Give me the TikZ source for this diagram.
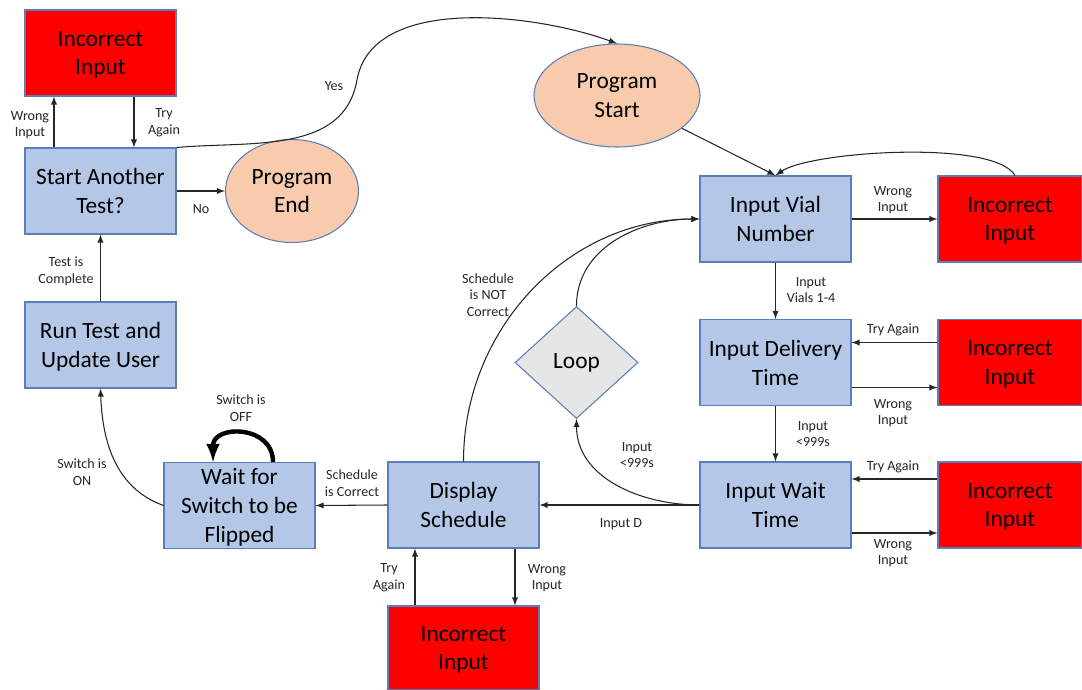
\documentclass[tikz,border=0pt]{standalone}
\usepackage{fontspec}
\setmainfont{Carlito}
\usepackage{tikz}
\usetikzlibrary{arrows,shapes,calc,positioning}
\definecolor{procblue}{HTML}{B4C7E7}
\definecolor{edgeblue}{HTML}{5B7DB8}
\definecolor{termpeach}{HTML}{F8CBAD}
\definecolor{loopgray}{HTML}{E7E6E6}
\tikzset{
  procbox/.style={draw=edgeblue, fill=procblue, line width=0.6pt, minimum width=3.02cm, minimum height=1.72cm, inner sep=0pt, text depth=-2.8pt, align=center, font=\fontsize{13.3}{16.4}\selectfont},
  errbox/.style={procbox, fill=red},
  termell/.style={ellipse, draw=edgeblue, fill=termpeach, line width=0.6pt, minimum height=2.06cm, inner sep=0pt, align=center, font=\fontsize{13.3}{16.4}\selectfont},
  loopdia/.style={diamond, draw=edgeblue, fill=loopgray, line width=0.6pt, minimum width=2.46cm, minimum height=2.24cm, inner sep=0pt, font=\fontsize{13.3}{16.4}\selectfont},
  lbl/.style={align=center, inner sep=0pt, text=black!85, font=\fontsize{8}{9.5}\selectfont},
  conn/.style={draw=black!85, line width=0.6pt, -latex}
}

\begin{document}
\begin{tikzpicture}
				\useasboundingbox (0,0) rectangle (21.64,-13.8);
				\node[errbox] (incA) at (2.01,-1.06) {Incorrect\\Input};
				\node[procbox, text depth=-1.2pt] (again) at (2.01,-3.82) {Start Another\\Test?};
				\node[termell, minimum width=2.66cm, text depth=-6pt] (pend) at (5.84,-3.82) {Program\\End};
				\node[procbox] (runtest) at (2.01,-6.90) {Run Test and\\Update User};
				\node[procbox] (waitsw) at (4.79,-10.11) {Wait for\\Switch to be\\Flipped};
				\node[procbox] (disp) at (9.27,-10.10) {Display\\Schedule};
				\node[errbox, minimum height=1.68cm] (incB) at (9.27,-12.96) {Incorrect\\Input};
				\node[loopdia] (loopd) at (11.53,-7.25) {Loop};
				\node[termell, minimum width=3.32cm] (pstart) at (12.34,-1.91) {Program\\Start};
				\node[procbox] (vial) at (15.51,-4.38) {Input Vial\\Number};
				\node[procbox] (deliv) at (15.51,-7.25) {Input Delivery\\Time};
				\node[procbox] (waitt) at (15.51,-10.10) {Input Wait\\Time};
				\node[errbox, minimum width=2.88cm] (inc1) at (20.20,-4.38) {Incorrect\\Input};
				\node[errbox, minimum width=2.88cm] (inc2) at (20.20,-7.25) {Incorrect\\Input};
				\node[errbox, minimum width=2.88cm] (inc3) at (20.20,-10.10) {Incorrect\\Input};
				\coordinate (yesbend) at (7.14,-1.60);

				\draw[conn] ([xshift=-0.93cm]again.north) -- ([xshift=-0.93cm]incA.south);
				\draw[conn] ([xshift=0.67cm]incA.south) -- ([xshift=0.67cm]again.north);
				\draw[conn] (again.east) -- (pend.west);
				\draw[conn] (again.north east) to[out=5,in=-100] (yesbend) to[out=80,in=160,looseness=0.85] (pstart.north);
				\draw[conn] (runtest.north) -- (again.south);
				\draw[conn] (waitsw.west) to[out=160,in=-88] (runtest.south);
				\draw[conn, draw=black, line width=2.5pt] ([xshift=0.67cm]waitsw.north) to[out=90,in=90,looseness=1.6] ([xshift=-0.53cm]waitsw.north);
				\draw[conn] (disp.west) -- (waitsw.east);
				\draw[conn] ([xshift=1.03cm]disp.south) -- ([xshift=1.03cm]incB.north);
				\draw[conn] ([xshift=-0.97cm]incB.north) -- ([xshift=-0.97cm]disp.south);
				\draw[conn] (disp.north) to[out=90,in=180] (vial.west);
				\draw[conn] (loopd.north) to[out=90,in=180] (vial.west);
				\draw[conn] (waitt.west) to[out=180,in=-90] (loopd.south);
				\draw[conn] (waitt.west) -- (disp.east);
				\draw[conn] (pstart) -- (vial.north);
				\draw[conn] ([xshift=0.1cm]inc1.north) to[out=120,in=35,looseness=0.45] (vial.north);
				\draw[conn] (vial.east) -- (inc1.west);
				\draw[conn] (vial.south) -- (deliv.north);
				\draw[conn] ([yshift=0.40cm]inc2.west) -- ([yshift=0.40cm]deliv.east);
				\draw[conn] ([yshift=-0.50cm]deliv.east) -- ([yshift=-0.50cm]inc2.west);
				\draw[conn] (deliv.south) -- (waitt.north);
				\draw[conn] ([yshift=0.52cm]inc3.west) -- ([yshift=0.52cm]waitt.east);
				\draw[conn] ([yshift=-0.56cm]waitt.east) -- ([yshift=-0.56cm]inc3.west);

				\node[lbl] (lwrongA) at (0.60,-2.50) {Wrong\\Input};
				\node[lbl] (ltryA) at (3.28,-2.46) {Try\\Again};
				\node[lbl] (lno) at (4.02,-4.18) {No};
				\node[lbl] (lyes) at (6.68,-1.72) {Yes};
				\node[lbl] (lcomplete) at (1.32,-5.42) {Test is\\Complete};
				\node[lbl] (lon) at (1.64,-9.44) {Switch is\\ON};
				\node[lbl] (loff) at (4.82,-8.16) {Switch is\\OFF};
				\node[lbl] (lcorrect) at (7.04,-9.66) {Schedule\\is Correct};
				\node[lbl] (ltryB) at (7.78,-11.56) {Try\\Again};
				\node[lbl] (lwrongB) at (10.94,-11.56) {Wrong\\Input};
				\node[lbl] (lnot) at (9.76,-5.90) {Schedule\\is NOT\\Correct};
				\node[lbl] (lloop) at (12.74,-9.10) {Input\\<999s};
				\node[lbl] (linputd) at (12.42,-10.48) {Input D};
				\node[lbl] (lwrong1) at (17.86,-4.00) {Wrong\\Input};
				\node[lbl] (lvials) at (16.22,-5.80) {Input\\Vials 1-4};
				\node[lbl] (ltry2) at (17.86,-6.60) {Try Again};
				\node[lbl] (lwrong2) at (17.86,-8.26) {Wrong\\Input};
				\node[lbl] (ldelay) at (16.26,-8.68) {Input\\<999s};
				\node[lbl] (ltry3) at (17.86,-9.34) {Try Again};
				\node[lbl] (lwrong3) at (17.86,-11.06) {Wrong\\Input};
				\end{tikzpicture}
\end{document}
